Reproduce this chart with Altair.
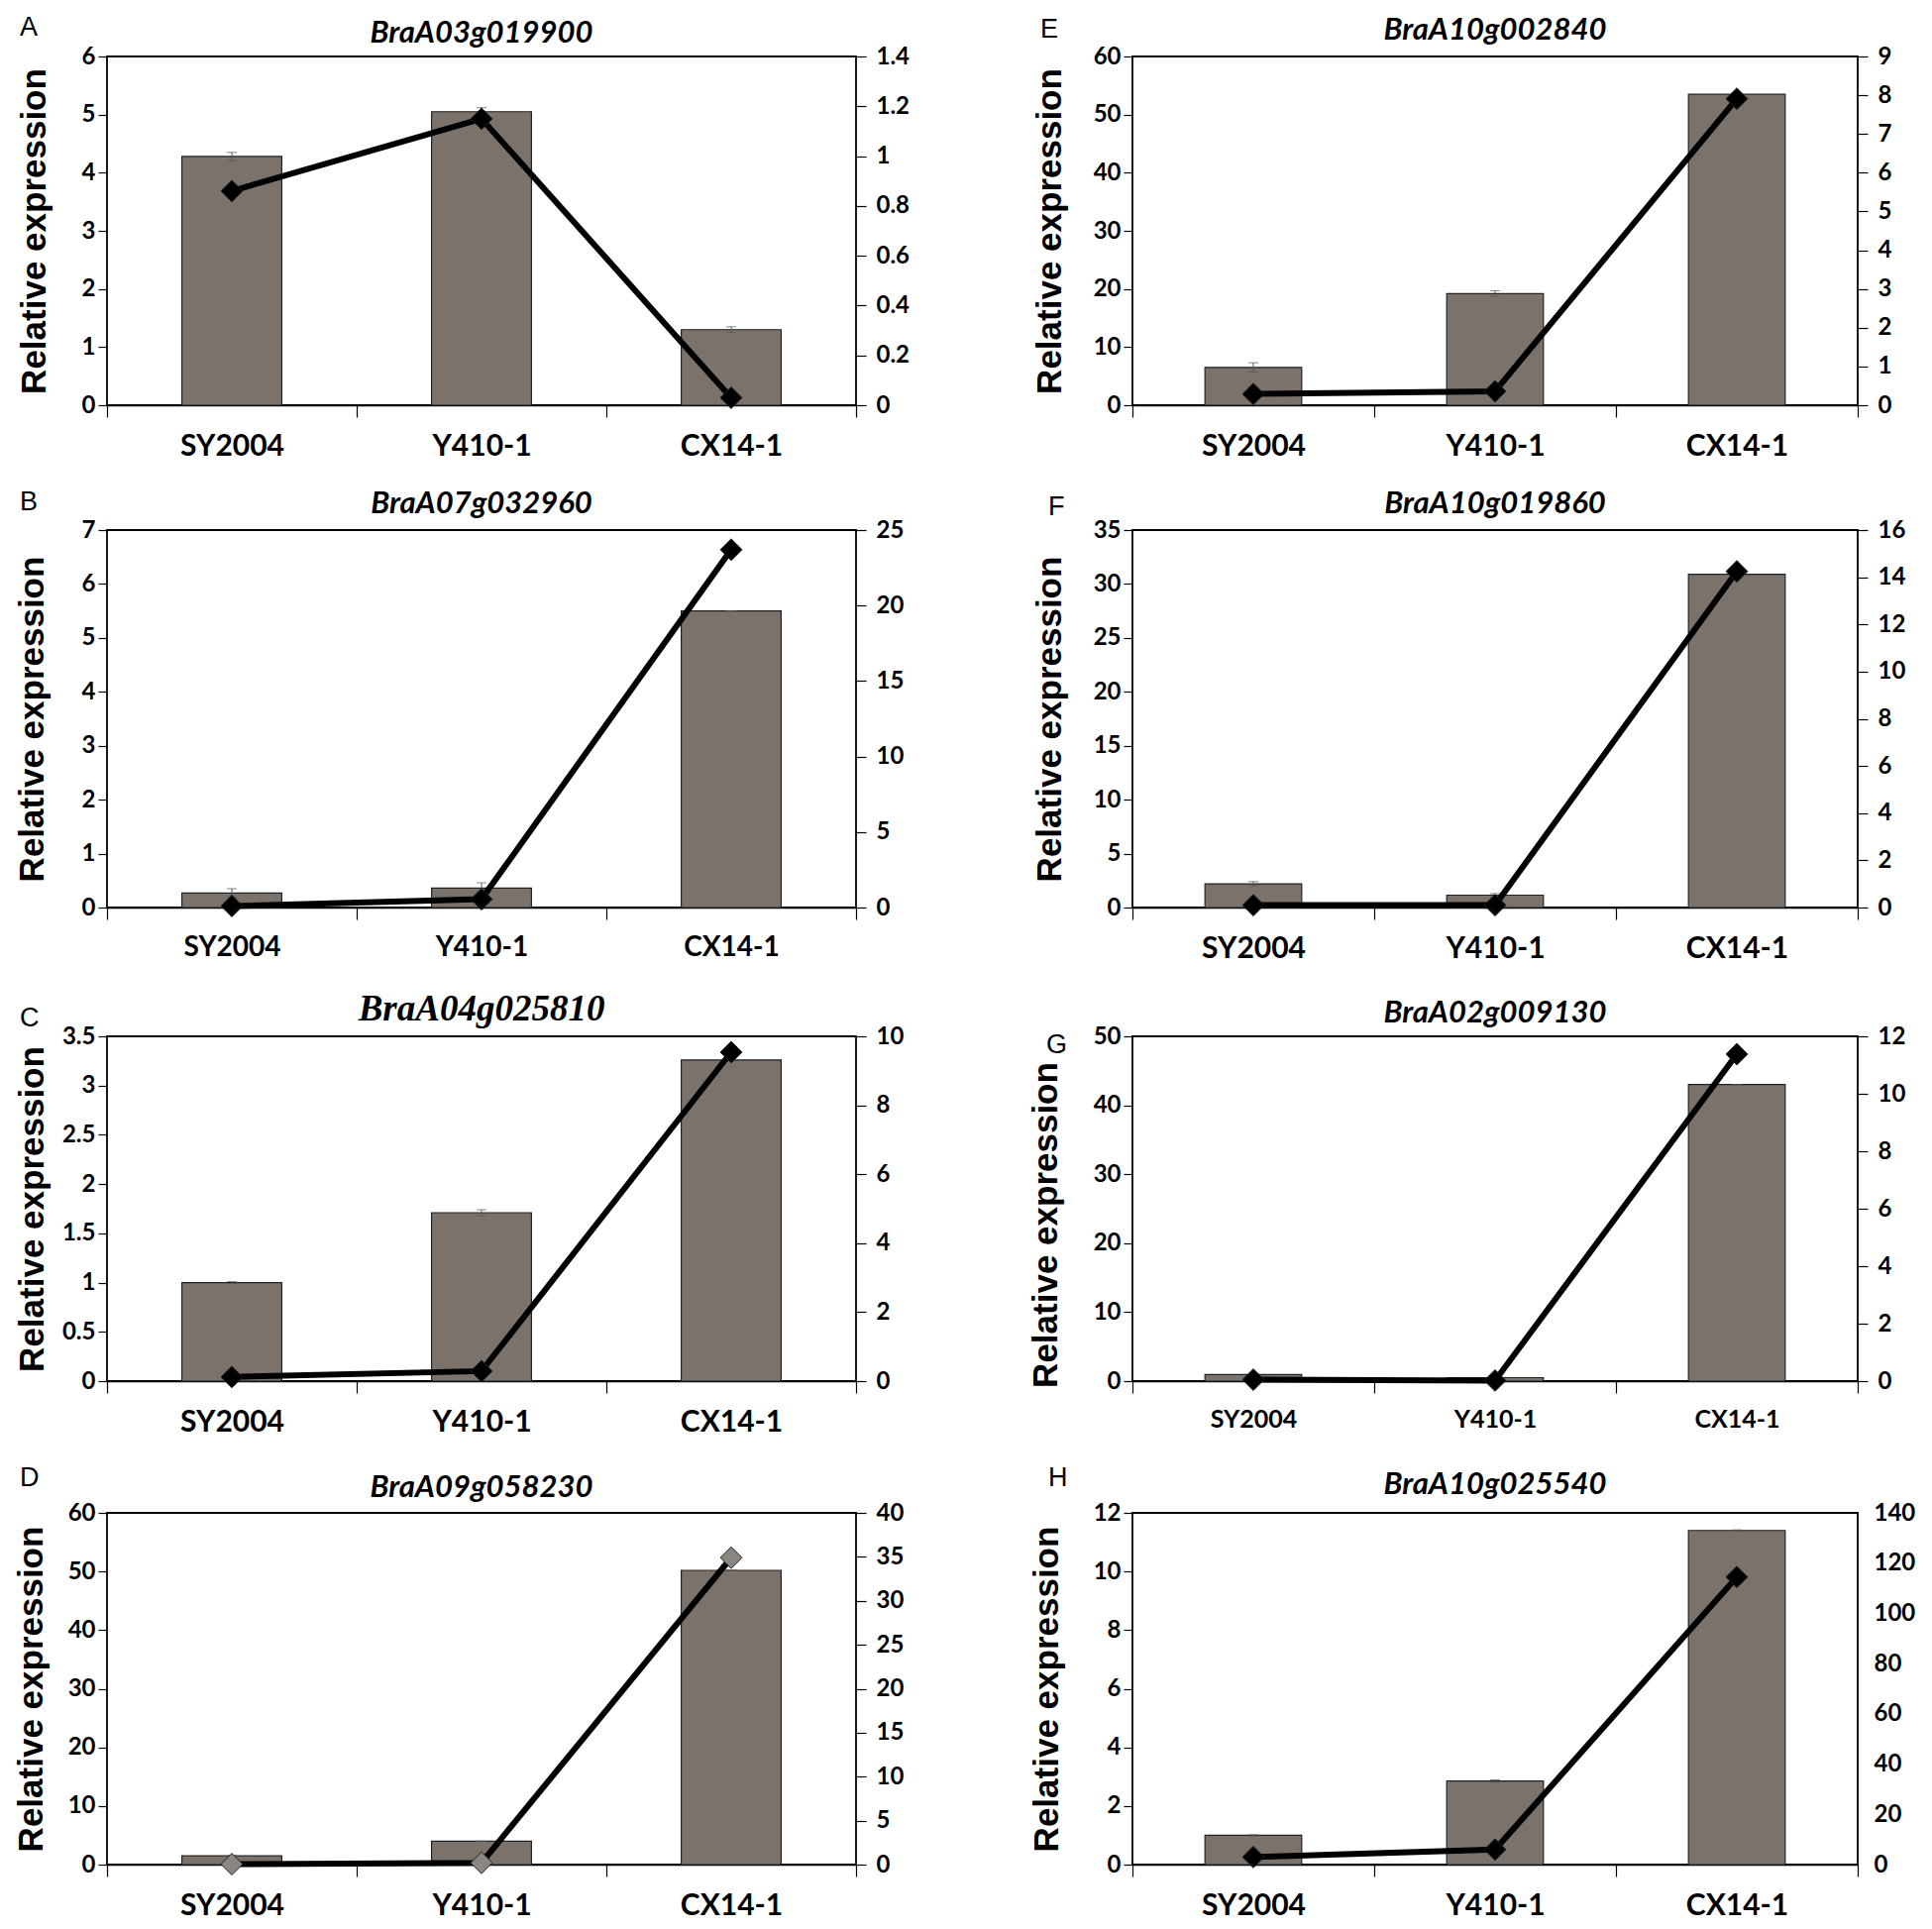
import altair as alt
import pandas as pd

cultivars = ["SY2004", "Y410-1", "CX14-1"]
letters = ["A", "B", "C", "D", "E", "F", "G", "H"]
genes = ["BraA03g019900", "BraA07g032960", "BraA04g025810", "BraA09g058230",
         "BraA10g002840", "BraA10g019860", "BraA02g009130", "BraA10g025540"]

# bar values (left axis) per panel A..H
bar_values = [
    [4.28, 5.05, 1.30],
    [0.27, 0.36, 5.50],
    [1.00, 1.71, 3.26],
    [1.5, 4.0, 50.2],
    [6.5, 19.2, 53.5],
    [2.2, 1.15, 30.9],
    [0.95, 0.5, 43.0],
    [1.0, 2.85, 11.4],
]
bar_errors = [
    [0.07, 0.07, 0.05],
    [0.08, 0.10, 0.0],
    [0.01, 0.03, 0.01],
    [0.0, 0.0, 0.0],
    [0.8, 0.5, 0.0],
    [0.2, 0.15, 0.0],
    [0.0, 0.0, 0.0],
    [0.02, 0.04, 0.02],
]
# line values (right axis) per panel
line_values = [
    [0.86, 1.15, 0.03],
    [0.1, 0.55, 23.7],
    [0.12, 0.29, 9.54],
    [0.05, 0.2, 34.9],
    [0.29, 0.36, 7.91],
    [0.1, 0.1, 14.25],
    [0.05, 0.02, 11.38],
    [3.0, 6.0, 114.5],
]
left_ticks = [
    [0, 1, 2, 3, 4, 5, 6],
    [0, 1, 2, 3, 4, 5, 6, 7],
    [0, 0.5, 1, 1.5, 2, 2.5, 3, 3.5],
    [0, 10, 20, 30, 40, 50, 60],
    [0, 10, 20, 30, 40, 50, 60],
    [0, 5, 10, 15, 20, 25, 30, 35],
    [0, 10, 20, 30, 40, 50],
    [0, 2, 4, 6, 8, 10, 12],
]
right_ticks = [
    [0, 0.2, 0.4, 0.6, 0.8, 1, 1.2, 1.4],
    [0, 5, 10, 15, 20, 25],
    [0, 2, 4, 6, 8, 10],
    [0, 5, 10, 15, 20, 25, 30, 35, 40],
    [0, 1, 2, 3, 4, 5, 6, 7, 8, 9],
    [0, 2, 4, 6, 8, 10, 12, 14, 16],
    [0, 2, 4, 6, 8, 10, 12],
    [0, 20, 40, 60, 80, 100, 120, 140],
]

SANS = "Lato, sans-serif"
ARIAL = "Liberation Sans, Arial, sans-serif"
BAR = "#7b726c"

title_fonts = [SANS, SANS, "Liberation Serif, serif", SANS, SANS, SANS, SANS, SANS]
title_sizes = [31, 31, 37, 31, 31, 31, 31, 31]
xlabel_sizes = [30, 28, 30, 30, 30, 30, 25, 30]
letter_pos = [(-88, -42), (-88, -41), (-88, -31), (-88, -48),
              (-93, -40), (-85, -36), (-87, -4), (-85, -48)]
title_y = [-23, -26, -27, -25, -26, -26, -23, -28]
ytitle_x = [-74, -76, -76, -77, -84, -84, -88, -87]
ytitle_y = [None, None, None, None, None, None, 190, None]
marker_fill = ["#000", "#000", "#000", "#8c8680", "#000", "#000", "#000", "#000"]
right_tick_size = [10, 10, 10, 10, 10, 10, 10, 0]
row_heights = [352, 381, 348, 355]
col_widths = [756, 732]


def panel(k, height, width):
    df = pd.DataFrame({
        "cultivar": cultivars,
        "bar": bar_values[k],
        "lo": [b - e for b, e in zip(bar_values[k], bar_errors[k])],
        "hi": [b + e for b, e in zip(bar_values[k], bar_errors[k])],
        "line": line_values[k],
    })
    x = alt.X(
        "cultivar:N", sort=cultivars,
        scale=alt.Scale(paddingInner=0, paddingOuter=0),
        axis=alt.Axis(title=None, labelAngle=0, tickBand="extent", tickSize=12,
                      tickColor="#000", tickWidth=1.2, domainColor="#000", domainWidth=1.5,
                      labelFont=SANS, labelFontSize=xlabel_sizes[k], labelFontWeight="bold",
                      labelColor="#000", labelPadding=14),
    )
    lscale = alt.Scale(domain=[0, left_ticks[k][-1]], nice=False, zero=True)
    rscale = alt.Scale(domain=[0, right_ticks[k][-1]], nice=False, zero=True)
    extra = {} if ytitle_y[k] is None else {"titleY": ytitle_y[k]}
    left_axis = alt.Axis(values=left_ticks[k], format="~r", title="Relative expression",
                         titleFont=ARIAL, titleFontSize=35, titleFontWeight="bold",
                         titleColor="#000", titleBaseline="middle", titleX=ytitle_x[k],
                         labelFont=SANS, labelFontSize=24, labelFontWeight="bold",
                         labelColor="#000", tickSize=9, tickColor="#000", tickWidth=1.2,
                         labelPadding=3, domain=False, grid=False, **extra)
    right_axis = alt.Axis(orient="right", values=right_ticks[k], format="~r", title=None,
                          labelFont=SANS, labelFontSize=24, labelFontWeight="bold",
                          labelColor="#000", tickSize=right_tick_size[k], tickColor="#000",
                          tickWidth=1.2, domain=False, grid=False,
                          labelPadding=10 if right_tick_size[k] else 16)
    base = alt.Chart(df)
    bars = base.mark_bar(color=BAR, stroke="#222", strokeWidth=1.2,
                         width=alt.RelativeBandSize(0.4)).encode(
        x=x, y=alt.Y("bar:Q", scale=lscale, axis=left_axis))
    err = base.mark_errorbar(ticks={"size": 10}, color="#555").encode(
        x=x, y=alt.Y("lo:Q", scale=lscale, axis=left_axis), y2="hi:Q")
    line = base.mark_line(color="#000", strokeWidth=6).encode(
        x=x, y=alt.Y("line:Q", scale=rscale, axis=right_axis))
    pts = base.mark_point(shape="diamond", filled=True, size=480, opacity=1,
                          fill=marker_fill[k], stroke="#222", strokeWidth=1).encode(
        x=x, y=alt.Y("line:Q", scale=rscale, axis=right_axis))
    lx, ly = letter_pos[k]
    letter = alt.Chart(pd.DataFrame({"t": [letters[k]]})).mark_text(
        font=ARIAL, fontSize=27, align="left", baseline="top", color="#000").encode(
        text="t:N", x=alt.value(lx), y=alt.value(ly))
    gene = alt.Chart(pd.DataFrame({"t": [genes[k]]})).mark_text(
        font=title_fonts[k], fontSize=title_sizes[k], fontStyle="italic", fontWeight="bold",
        align="center", baseline="middle", color="#000").encode(
        text="t:N", x=alt.value(width / 2), y=alt.value(title_y[k]))
    return alt.layer(alt.layer(bars, err), alt.layer(line, pts), letter, gene).resolve_scale(
        y="independent").properties(width=width, height=height)


order = [0, 4, 1, 5, 2, 6, 3, 7]
panels = [panel(k, row_heights[i // 2], col_widths[i % 2]) for i, k in enumerate(order)]

chart = alt.concat(*panels, columns=2, align="each", spacing={"row": 26, "column": 118},
                   background="white").configure_view(stroke="#000", strokeWidth=1.8)

chart.save("out.html", embed_options={"renderer": "svg", "actions": False})
